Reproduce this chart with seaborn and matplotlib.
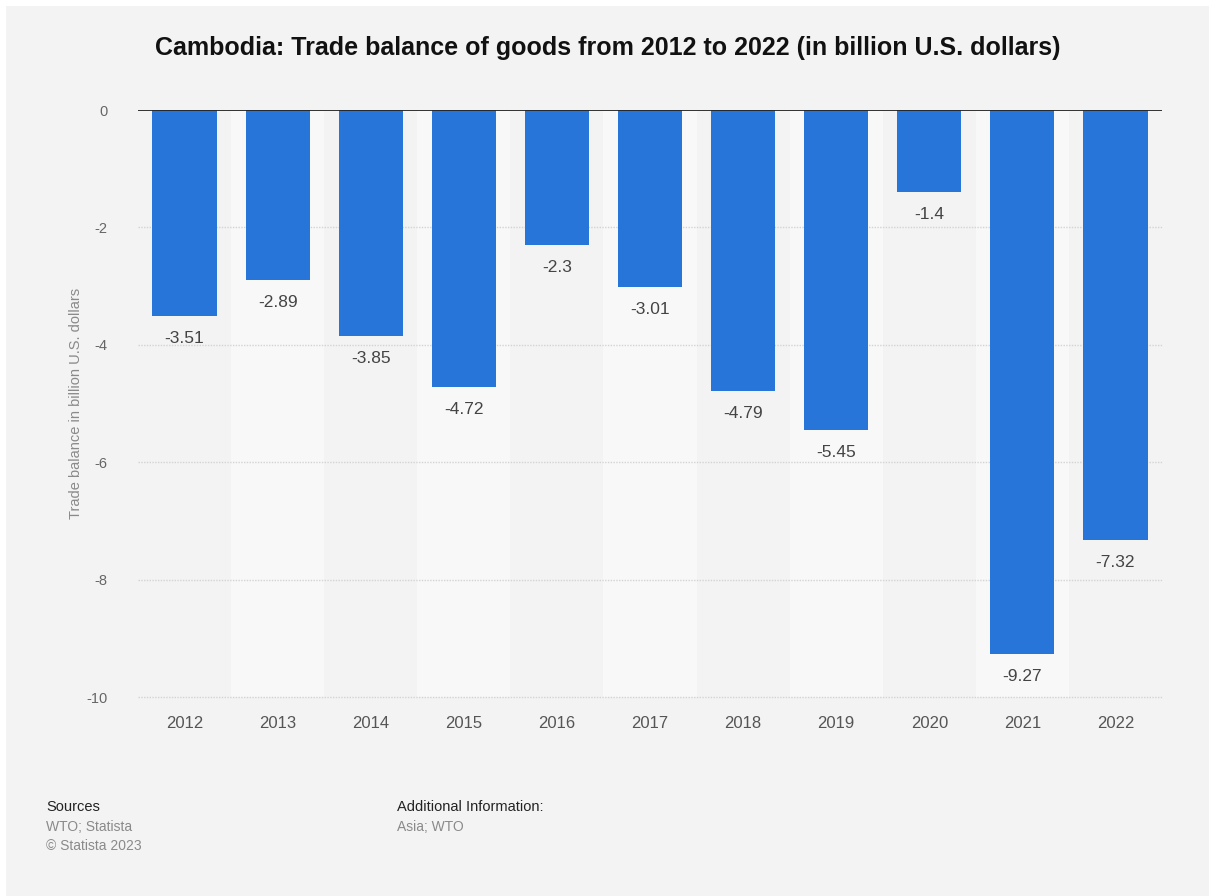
import matplotlib
matplotlib.use("Agg")
import matplotlib.pyplot as plt
import seaborn as sns
import pandas as pd
from matplotlib.patches import Rectangle

years = ["2012", "2013", "2014", "2015", "2016", "2017", "2018", "2019", "2020", "2021", "2022"]
balance = [-3.51, -2.89, -3.85, -4.72, -2.3, -3.01, -4.79, -5.45, -1.4, -9.27, -7.32]
value_labels = ["-3.51", "-2.89", "-3.85", "-4.72", "-2.3", "-3.01", "-4.79", "-5.45", "-1.4", "-9.27", "-7.32"]
y_ticks = [0, -2, -4, -6, -8, -10]

title = "Cambodia: Trade balance of goods from 2012 to 2022 (in billion U.S. dollars)"
y_label = "Trade balance in billion U.S. dollars"

sns.set_theme(style="white")
plt.rcParams["font.family"] = ["Liberation Sans", "DejaVu Sans"]

BG = "#f3f3f3"
BAND = "#f8f8f8"
BAR = "#2775d8"

fig = plt.figure(figsize=(12.09, 8.96), dpi=100)
fig.patch.set_facecolor("white")
# page background with a thin white margin at top and left
fig.add_artist(Rectangle((6 / 1209, 0), 1 - 6 / 1209, 1 - 6 / 896,
                         transform=fig.transFigure, facecolor=BG,
                         edgecolor="none", zorder=-10))

ax = fig.add_axes([138 / 1209, 1 - 697 / 896, (1162 - 138) / 1209, (697 - 110) / 896])
ax.set_facecolor(BG)

# alternating column bands
for i in range(len(years)):
    if i % 2 == 1:
        ax.axvspan(i - 0.5, i + 0.5, color=BAND, zorder=0, lw=0)

# dotted gridlines
for t in y_ticks[1:]:
    ax.axhline(t, color="#d3d3d3", lw=1.0, ls=(0, (1, 1)), zorder=0.5,
               clip_on=False)

df = pd.DataFrame({"year": years, "balance": balance})
sns.barplot(data=df, x="year", y="balance", color=BAR, saturation=1,
            width=0.69, ax=ax, zorder=2, edgecolor="none")

ax.axhline(0, color="#222222", lw=1.3, zorder=3)

for i, (v, lab) in enumerate(zip(balance, value_labels)):
    ax.text(i, v - 0.26, lab, ha="center", va="top", fontsize=12.5,
            color="#444444", zorder=4)

ax.set_xlim(-0.5, len(years) - 0.5)
ax.set_ylim(-10, 0)
ax.set_yticks(y_ticks)
ax.set_yticklabels([str(t) for t in y_ticks])
ax.tick_params(axis="y", length=0, pad=22, labelsize=10.5, labelcolor="#666666")
ax.tick_params(axis="x", length=0, pad=14, labelsize=12, labelcolor="#555555")
ax.set_xlabel("")
ax.set_ylabel(y_label, fontsize=10.5, color="#8a8a8a", labelpad=2)
for s in ax.spines.values():
    s.set_visible(False)

fig.text(608 / 1209, 1 - 48 / 896, title, ha="center", va="center",
         fontsize=18, fontweight="bold", color="#111111")

fig.text(46 / 1209, 1 - 807 / 896, "Sources", fontsize=10.5, color="#222222", va="center")
fig.text(46 / 1209, 1 - 827 / 896, "WTO; Statista", fontsize=10, color="#8a8a8a", va="center")
fig.text(46 / 1209, 1 - 846 / 896, "\u00a9 Statista 2023", fontsize=10, color="#8a8a8a", va="center")
fig.text(397 / 1209, 1 - 807 / 896, "Additional Information:", fontsize=10.5, color="#222222", va="center")
fig.text(397 / 1209, 1 - 827 / 896, "Asia; WTO", fontsize=10, color="#8a8a8a", va="center")

fig.savefig("out.png", dpi=100, facecolor=fig.get_facecolor())
